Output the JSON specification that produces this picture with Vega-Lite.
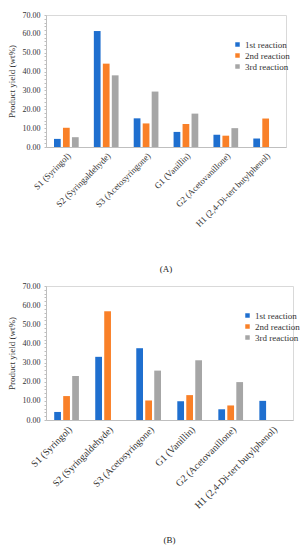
{
  "$schema": "https://vega.github.io/schema/vega-lite/v6.json",
  "padding": {"left": 6, "top": 10, "right": 0, "bottom": 0},
  "background": "white",
  "config": {
    "font": "Liberation Serif",
    "view": {"stroke": "#d9d9d9", "strokeWidth": 1},
    "axis": {"labelFont": "Liberation Serif", "titleFont": "Liberation Serif", "labelColor": "#333333", "titleColor": "#333333", "titleFontWeight": "normal", "grid": false, "domainColor": "#bfbfbf", "tickColor": "#bfbfbf"},
    "legend": {"labelFont": "Liberation Serif", "labelColor": "#333333"},
    "title": {"font": "Liberation Serif", "fontWeight": "normal", "fontSize": 9, "color": "#222222"},
    "concat": {"spacing": 6}
  },
  "data": {"values": [
    {"panel": "A", "compound": "S1 (Syringol)", "reaction": "1st reaction", "value": 4.3},
    {"panel": "A", "compound": "S1 (Syringol)", "reaction": "2nd reaction", "value": 10.2},
    {"panel": "A", "compound": "S1 (Syringol)", "reaction": "3rd reaction", "value": 5.2},
    {"panel": "A", "compound": "S2 (Syringaldehyde)", "reaction": "1st reaction", "value": 61.5},
    {"panel": "A", "compound": "S2 (Syringaldehyde)", "reaction": "2nd reaction", "value": 44.2},
    {"panel": "A", "compound": "S2 (Syringaldehyde)", "reaction": "3rd reaction", "value": 38.0},
    {"panel": "A", "compound": "S3 (Acetosyringone)", "reaction": "1st reaction", "value": 15.2},
    {"panel": "A", "compound": "S3 (Acetosyringone)", "reaction": "2nd reaction", "value": 12.5},
    {"panel": "A", "compound": "S3 (Acetosyringone)", "reaction": "3rd reaction", "value": 29.4},
    {"panel": "A", "compound": "G1 (Vanillin)", "reaction": "1st reaction", "value": 8.0},
    {"panel": "A", "compound": "G1 (Vanillin)", "reaction": "2nd reaction", "value": 12.2},
    {"panel": "A", "compound": "G1 (Vanillin)", "reaction": "3rd reaction", "value": 17.7},
    {"panel": "A", "compound": "G2 (Acetovanillone)", "reaction": "1st reaction", "value": 6.5},
    {"panel": "A", "compound": "G2 (Acetovanillone)", "reaction": "2nd reaction", "value": 6.0},
    {"panel": "A", "compound": "G2 (Acetovanillone)", "reaction": "3rd reaction", "value": 10.0},
    {"panel": "A", "compound": "H1 (2,4-Di-tert butylphenol)", "reaction": "1st reaction", "value": 4.5},
    {"panel": "A", "compound": "H1 (2,4-Di-tert butylphenol)", "reaction": "2nd reaction", "value": 15.1},
    {"panel": "A", "compound": "H1 (2,4-Di-tert butylphenol)", "reaction": "3rd reaction", "value": 0},
    {"panel": "B", "compound": "S1 (Syringol)", "reaction": "1st reaction", "value": 4.2},
    {"panel": "B", "compound": "S1 (Syringol)", "reaction": "2nd reaction", "value": 12.5},
    {"panel": "B", "compound": "S1 (Syringol)", "reaction": "3rd reaction", "value": 23.0},
    {"panel": "B", "compound": "S2 (Syringaldehyde)", "reaction": "1st reaction", "value": 33.0},
    {"panel": "B", "compound": "S2 (Syringaldehyde)", "reaction": "2nd reaction", "value": 56.8},
    {"panel": "B", "compound": "S2 (Syringaldehyde)", "reaction": "3rd reaction", "value": 0},
    {"panel": "B", "compound": "S3 (Acetosyringone)", "reaction": "1st reaction", "value": 37.5},
    {"panel": "B", "compound": "S3 (Acetosyringone)", "reaction": "2nd reaction", "value": 10.2},
    {"panel": "B", "compound": "S3 (Acetosyringone)", "reaction": "3rd reaction", "value": 25.8},
    {"panel": "B", "compound": "G1 (Vanillin)", "reaction": "1st reaction", "value": 9.8},
    {"panel": "B", "compound": "G1 (Vanillin)", "reaction": "2nd reaction", "value": 13.0},
    {"panel": "B", "compound": "G1 (Vanillin)", "reaction": "3rd reaction", "value": 31.2},
    {"panel": "B", "compound": "G2 (Acetovanillone)", "reaction": "1st reaction", "value": 5.6},
    {"panel": "B", "compound": "G2 (Acetovanillone)", "reaction": "2nd reaction", "value": 7.6},
    {"panel": "B", "compound": "G2 (Acetovanillone)", "reaction": "3rd reaction", "value": 19.8},
    {"panel": "B", "compound": "H1 (2,4-Di-tert butylphenol)", "reaction": "1st reaction", "value": 10.0},
    {"panel": "B", "compound": "H1 (2,4-Di-tert butylphenol)", "reaction": "2nd reaction", "value": 0},
    {"panel": "B", "compound": "H1 (2,4-Di-tert butylphenol)", "reaction": "3rd reaction", "value": 0}
  ]},
  "vconcat": [
    {
      "width": 240,
      "height": 132,
      "title": {"text": "(A)", "orient": "bottom", "offset": 37},
      "transform": [{"filter": "datum.panel === 'A'"}],
      "mark": {"type": "bar"},
      "encoding": {
        "x": {"field": "compound", "type": "nominal", "sort": null, "scale": {"paddingInner": 0.38, "paddingOuter": 0.2},
          "axis": {"title": null, "labelAngle": -45, "labelFontSize": 8.8, "ticks": false, "labelPadding": 4, "labelLimit": 200}},
        "xOffset": {"field": "reaction", "type": "nominal", "scale": {"paddingInner": 0.25}},
        "y": {"field": "value", "type": "quantitative", "scale": {"domain": [0, 70], "nice": false},
          "axis": {"title": "Product yield (wt%)", "titleFontSize": 9, "labelFontSize": 8, "format": ".2f",
            "values": [0,2,4,6,8,10,12,14,16,18,20,22,24,26,28,30,32,34,36,38,40,42,44,46,48,50,52,54,56,58,60,62,64,66,68,70],
            "labelExpr": "datum.value % 10 === 0 ? format(datum.value, '.2f') : ''", "tickSize": 2, "labelPadding": 4, "titlePadding": 6}},
        "color": {"field": "reaction", "type": "nominal",
          "scale": {"domain": ["1st reaction", "2nd reaction", "3rd reaction"], "range": ["#1f6fcf", "#f98028", "#a6a6a6"]},
          "legend": {"title": null, "orient": "none", "legendX": 187, "legendY": 25, "symbolType": "square", "symbolSize": 20, "labelFontSize": 9, "rowPadding": 1, "labelOffset": 3}}
      }
    },
    {
      "width": 247,
      "height": 134,
      "title": {"text": "(B)", "orient": "bottom", "offset": 26},
      "transform": [{"filter": "datum.panel === 'B'"}],
      "mark": {"type": "bar"},
      "encoding": {
        "x": {"field": "compound", "type": "nominal", "sort": null, "scale": {"paddingInner": 0.38, "paddingOuter": 0.2},
          "axis": {"title": null, "labelAngle": -45, "labelFontSize": 9.8, "ticks": false, "labelPadding": 4, "labelLimit": 200}},
        "xOffset": {"field": "reaction", "type": "nominal", "scale": {"paddingInner": 0.25}},
        "y": {"field": "value", "type": "quantitative", "scale": {"domain": [0, 70], "nice": false},
          "axis": {"title": "Product yield (wt%)", "titleFontSize": 9, "labelFontSize": 8, "format": ".2f",
            "values": [0,2,4,6,8,10,12,14,16,18,20,22,24,26,28,30,32,34,36,38,40,42,44,46,48,50,52,54,56,58,60,62,64,66,68,70],
            "labelExpr": "datum.value % 10 === 0 ? format(datum.value, '.2f') : ''", "tickSize": 2, "labelPadding": 4, "titlePadding": 6}},
        "color": {"field": "reaction", "type": "nominal",
          "scale": {"domain": ["1st reaction", "2nd reaction", "3rd reaction"], "range": ["#1f6fcf", "#f98028", "#a6a6a6"]},
          "legend": {"title": null, "orient": "none", "legendX": 197, "legendY": 25, "symbolType": "square", "symbolSize": 20, "labelFontSize": 9, "rowPadding": 1, "labelOffset": 3}}
      }
    }
  ],
  "resolve": {"scale": {"color": "shared"}, "legend": {"color": "independent"}}
}
